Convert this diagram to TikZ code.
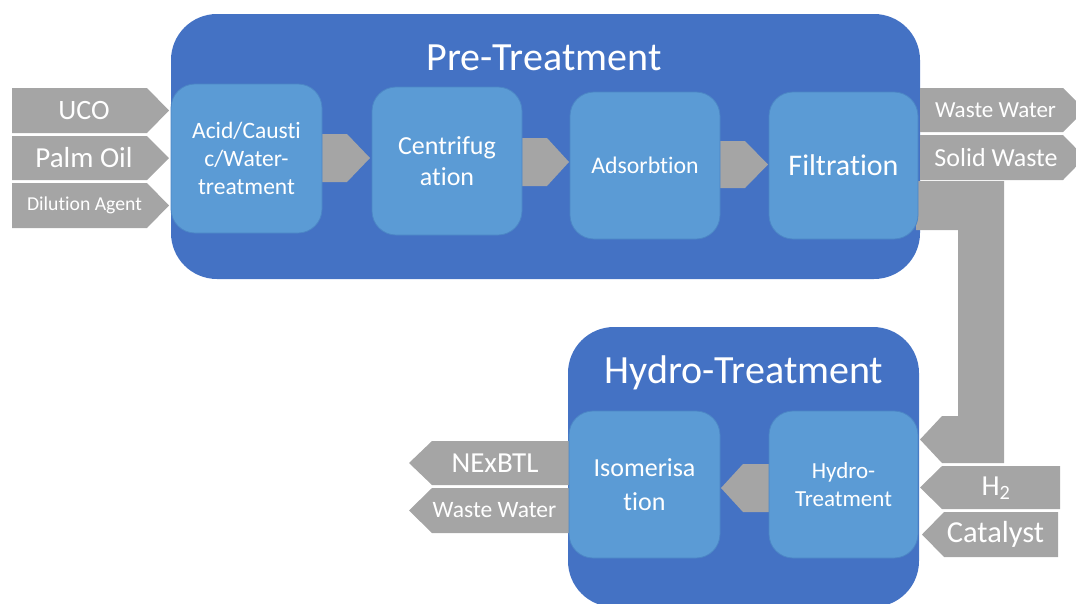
\documentclass[tikz,border=0pt]{standalone}
\usepackage{fontspec}
\setmainfont{Carlito}[Ligatures=NoCommon]
\usetikzlibrary{calc}
\definecolor{stageblue}{HTML}{4472C4}
\definecolor{unitblue}{HTML}{5B9BD5}
\definecolor{unitedge}{HTML}{4C86C6}
\definecolor{flowgray}{HTML}{A5A5A5}
\newcommand\fs[2]{\fontsize{#1}{#2}\selectfont}
\begin{document}
\begin{tikzpicture}[x=1pt,y=-1pt,
  stage/.style={fill=stageblue, rounded corners=46pt, inner sep=0},
  unit/.style={fill=unitblue, draw=unitedge, line width=0.8pt, rounded corners=24pt,
    text=white, align=center, inner sep=0},
  flow/.style={fill=flowgray},
  lbl/.style={text=white, align=center, inner sep=0}]
\useasboundingbox (0,0) rectangle (1076,603);
\clip (0,0) rectangle (1076,603);

% stage containers
\node[stage, minimum width=749, minimum height=265] (pre) at (545.5,146.5) {};
\node[stage, minimum width=351, minimum height=280] (hyd) at (743.5,467) {};
\node[lbl, font=\fs{40}{46}] (pretitle) at (544,58) {Pre-Treatment};
\node[lbl, font=\fs{40}{46}] (hydtitle) at (744,373) {Hydro-Treatment};

% feed arrows into the pre-treatment
\fill[flow] (12,88)  -- (147,88)  -- (169,110.5) -- (147,133) -- (12,133) -- cycle;
\fill[flow] (12,136) -- (147,136) -- (169,158)   -- (147,180) -- (12,180) -- cycle;
\fill[flow] (12,183) -- (147,183) -- (169,205.5) -- (147,228) -- (12,228) -- cycle;
\node[lbl, font=\fs{28}{32}] (uco)  at (84,110.5) {UCO};
\node[lbl, font=\fs{29}{33}] (palm) at (84,158) {Palm Oil};
\node[lbl, font=\fs{19.7}{23}] (dil)  at (84.5,205.5) {Dilution Agent};

% waste streams leaving the filtration
\fill[flow] (920,88)  -- (1063,88)  -- (1085,110)   -- (1063,132) -- (920,132) -- cycle;
\fill[flow] (920,135) -- (1063,135) -- (1085,157.5) -- (1063,180) -- (920,180) -- cycle;
\node[lbl, font=\fs{23}{27}] (ww1) at (995.5,110) {Waste Water};
\node[lbl, font=\fs{26}{30}] (sw)  at (996,157.5) {Solid Waste};

% bent transfer from filtration down to hydro-treatment
\fill[flow] (916,181) -- (1004,181) -- (1004,463) -- (942,463) -- (920,439.5)
  -- (942,416) -- (958,416) -- (958,230) -- (916,230) -- cycle;

% hydrogen and catalyst feeds
\fill[flow] (1060,466) -- (942,466) -- (920,487.5) -- (942,509) -- (1060,509) -- cycle;
\fill[flow] (1058,512) -- (944,512) -- (922,534.5) -- (944,557) -- (1058,557) -- cycle;
\node[lbl, font=\fs{29}{33}] (h2)  at (996,488) {H\textsubscript{2}};
\node[lbl, font=\fs{30.5}{35}] (cat) at (995.5,534.5) {Catalyst};

% products leaving the isomerisation
\fill[flow] (570,441) -- (432,441) -- (409,463)   -- (432,485) -- (570,485) -- cycle;
\fill[flow] (570,488) -- (432,488) -- (409,510.5) -- (432,533) -- (570,533) -- cycle;
\node[lbl, font=\fs{29}{33}] (nex) at (495,463) {NExBTL};
\node[lbl, font=\fs{23.5}{27}] (ww2) at (494.5,510.5) {Waste Water};

% chevrons between process units
\fill[flow] (320,134) -- (347,134) -- (370,158)   -- (347,182) -- (320,182) -- cycle;
\fill[flow] (520,138) -- (547,138) -- (569,162)   -- (547,186) -- (520,186) -- cycle;
\fill[flow] (718,141) -- (745,141) -- (768,164.5) -- (745,188) -- (718,188) -- cycle;
\fill[flow] (771,464) -- (743,464) -- (721,488)   -- (743,512) -- (771,512) -- cycle;

% process units
\node[unit, minimum width=151, minimum height=149, font=\fs{23.5}{28}] (acid) at (246.5,158.5)
  {Acid/Causti\\c/Water-\\treatment};
\node[unit, minimum width=150, minimum height=148, font=\fs{26}{31}] (cent) at (447,161)
  {Centrifug\\ation};
\node[unit, minimum width=150, minimum height=147, font=\fs{23.8}{28}] (ads) at (645,165.5)
  {Adsorbtion};
\node[unit, minimum width=149, minimum height=147, font=\fs{30}{35}] (filt) at (843.5,165.5)
  {Filtration};
\node[unit, minimum width=151, minimum height=147, font=\fs{26}{34}] (iso) at (644.5,484.5)
  {Isomerisa\\tion};
\node[unit, minimum width=149, minimum height=147, font=\fs{23}{28}] (hdt) at (843.5,484.5)
  {Hydro-\\Treatment};
\end{tikzpicture}
\end{document}
